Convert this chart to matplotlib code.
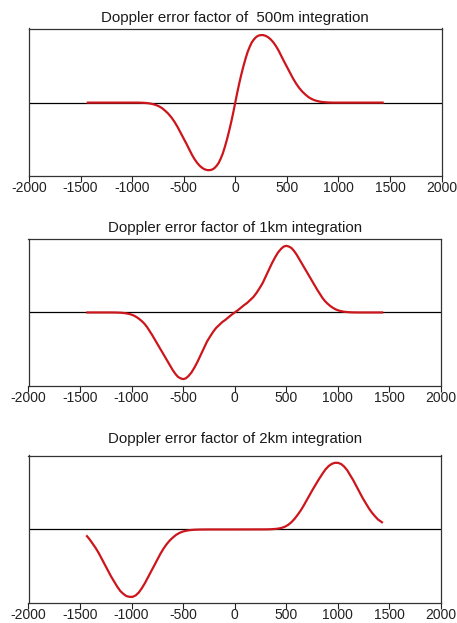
import matplotlib
matplotlib.use("Agg")
import matplotlib.pyplot as plt

plt.rcParams["font.family"] = ["Liberation Sans", "DejaVu Sans"]
plt.rcParams["axes.unicode_minus"] = False

titles = [
    "Doppler error factor of  500m integration",
    "Doppler error factor of 1km integration",
    "Doppler error factor of 2km integration",
]

x_ticks = [-2000, -1500, -1000, -500, 0, 500, 1000, 1500, 2000]

# 500 m integration
x_500m = [-1440, -950, -900, -860, -830, -800, -770, -740, -710, -680, -650,
          -620, -590, -560, -530, -500, -470, -445, -420, -395, -370, -345,
          -320, -295, -270, -245, -220, -200, -180, -160, -140, -120, -100,
          -80, -60, -40, -20, 0, 20, 40, 60, 80, 100, 120, 140, 160, 180, 200,
          220, 245, 270, 295, 320, 345, 370, 395, 420, 445, 470, 500, 530,
          560, 590, 620, 650, 680, 710, 740, 770, 800, 830, 860, 900, 950,
          1440]
y_500m = [0.0, 0.0, -0.002, -0.006, -0.011, -0.02, -0.032, -0.05, -0.075,
          -0.11, -0.15, -0.20, -0.26, -0.33, -0.41, -0.49, -0.57, -0.64,
          -0.71, -0.77, -0.82, -0.86, -0.89, -0.91, -0.92, -0.92, -0.91,
          -0.89, -0.86, -0.82, -0.76, -0.69, -0.60, -0.50, -0.39, -0.27,
          -0.14, 0.0, 0.14, 0.27, 0.39, 0.50, 0.60, 0.69, 0.76, 0.82, 0.86,
          0.89, 0.91, 0.92, 0.92, 0.91, 0.89, 0.86, 0.82, 0.77, 0.71, 0.64,
          0.57, 0.49, 0.41, 0.33, 0.26, 0.20, 0.15, 0.11, 0.075, 0.05, 0.032,
          0.02, 0.011, 0.006, 0.002, 0.0, 0.0]

# 1 km integration
x_1km = [-1440, -1200, -1150, -1100, -1060, -1030, -1000, -975, -950, -925,
         -900, -875, -850, -825, -800, -775, -750, -725, -700, -675, -650,
         -625, -600, -575, -550, -525, -500, -475, -450, -420, -390, -360,
         -330, -300, -270, -240, -210, -180, -150, -120, -90, -60, -30, 0,
         30, 60, 90, 120, 150, 180, 210, 240, 270, 300, 330, 360, 390, 420,
         450, 475, 500, 525, 550, 575, 600, 625, 650, 675, 700, 725, 750, 775,
         800, 825, 850, 875, 900, 925, 950, 975, 1000, 1030, 1060, 1100, 1150,
         1200, 1440]
y_1km = [0.0, 0.0, -0.001, -0.004, -0.01, -0.018, -0.03, -0.045, -0.065,
         -0.09, -0.12, -0.155, -0.20, -0.255, -0.31, -0.37, -0.43, -0.49,
         -0.55, -0.61, -0.67, -0.73, -0.79, -0.84, -0.88, -0.90, -0.91,
         -0.90, -0.87, -0.82, -0.75, -0.67, -0.58, -0.49, -0.40, -0.33,
         -0.265, -0.21, -0.17, -0.13, -0.10, -0.065, -0.03, 0.0, 0.03, 0.065,
         0.10, 0.13, 0.17, 0.21, 0.265, 0.33, 0.40, 0.49, 0.58, 0.67, 0.75,
         0.82, 0.87, 0.90, 0.91, 0.90, 0.88, 0.84, 0.79, 0.73, 0.67, 0.61,
         0.55, 0.49, 0.43, 0.37, 0.31, 0.255, 0.20, 0.155, 0.12, 0.09, 0.065,
         0.045, 0.03, 0.018, 0.01, 0.004, 0.001, 0.0, 0.0]

# 2 km integration
x_2km = [-1440, -1410, -1380, -1350, -1320, -1290, -1260, -1230, -1200, -1170,
         -1140, -1110, -1080, -1050, -1020, -990, -960, -930, -900, -870,
         -840, -810, -780, -750, -720, -690, -660, -630, -600, -570, -540,
         -510, -480, -450, -420, -380, -330, -250, 0, 300, 350, 400, 430, 460,
         490, 520, 550, 580, 610, 640, 670, 700, 730, 760, 790, 820, 850, 880,
         910, 940, 970, 1000, 1030, 1060, 1090, 1120, 1150, 1180, 1210, 1240,
         1270, 1300, 1330, 1360, 1390, 1436]
y_2km = [-0.08, -0.13, -0.19, -0.25, -0.32, -0.40, -0.48, -0.56, -0.64, -0.71,
         -0.78, -0.84, -0.88, -0.91, -0.92, -0.92, -0.90, -0.86, -0.80, -0.73,
         -0.65, -0.57, -0.49, -0.41, -0.33, -0.26, -0.20, -0.15, -0.11,
         -0.075, -0.05, -0.032, -0.02, -0.012, -0.007, -0.003, -0.001, 0.0,
         0.0, 0.001, 0.003, 0.008, 0.014, 0.024, 0.04, 0.065, 0.10, 0.145,
         0.20, 0.26, 0.33, 0.405, 0.48, 0.555, 0.625, 0.695, 0.76, 0.82,
         0.865, 0.895, 0.91, 0.91, 0.895, 0.86, 0.81, 0.74, 0.67, 0.59, 0.51,
         0.43, 0.36, 0.29, 0.23, 0.18, 0.135, 0.09]

series = [(x_500m, y_500m), (x_1km, y_1km), (x_2km, y_2km)]

W, H = 457, 623
fig = plt.figure(figsize=(W / 100, H / 100), dpi=100)

# axes boxes in pixels: left, top, right, bottom
boxes = [(29, 28.5, 441.5, 176), (28.5, 238.5, 441, 385.7), (28.5, 455.5, 441, 602.7)]
title_pads = [5.0, 5.0, 9.0]

for (xs, ys), title, (l, t, r, b), tp in zip(series, titles, boxes, title_pads):
    ax = fig.add_axes([l / W, 1 - b / H, (r - l) / W, (b - t) / H])
    ax.axhline(0, color="black", lw=0.9, zorder=1)
    ax.plot(xs, ys, color="#cc161c", lw=1.6, solid_joinstyle="round",
            solid_capstyle="butt", zorder=2)
    ax.set_xlim(-2000, 2000)
    ax.set_ylim(-1.0, 1.01)
    ax.set_xticks(x_ticks)
    ax.set_xticklabels([str(v) for v in x_ticks])
    ax.set_yticks([])
    ax.tick_params(axis="x", direction="out", length=4.5, width=0.8,
                   pad=-1.0, labelsize=10, colors="#222222")
    for sp in ax.spines.values():
        sp.set_color("#333333")
        sp.set_linewidth(0.9)
    ax.set_title(title, fontsize=10.8, color="#1a1a1a", pad=tp)

fig.savefig("out.png", dpi=100)
